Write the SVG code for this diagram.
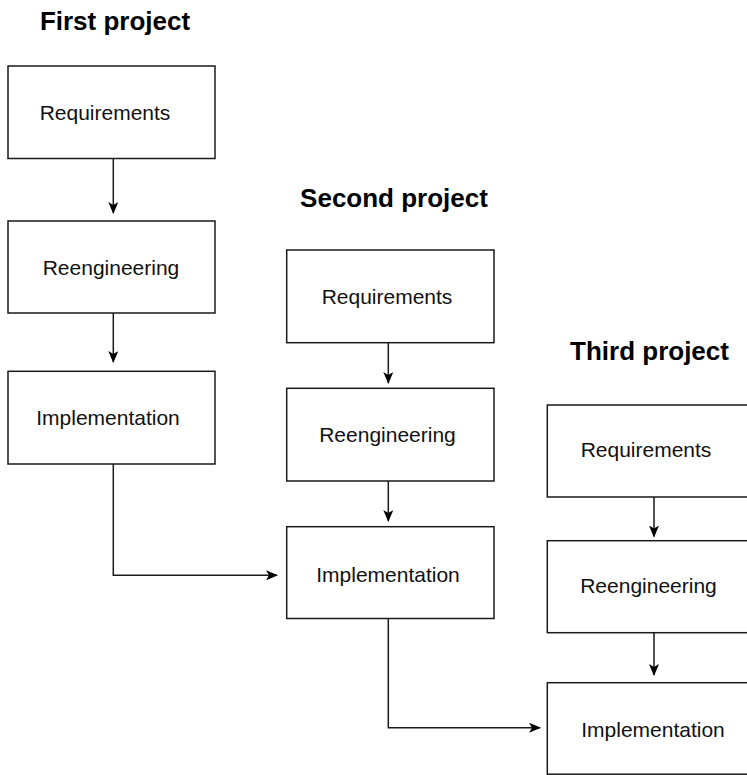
<svg xmlns="http://www.w3.org/2000/svg" width="747" height="775" viewBox="0 0 747 775">
<style>
.box{fill:#fff;stroke:#1a1a1a;stroke-width:1.5}
.lbl{font-family:"Liberation Sans",Arial,Helvetica,sans-serif;font-size:21px;fill:#111;text-anchor:middle}
.ttl{font-family:"Liberation Sans",Arial,Helvetica,sans-serif;font-size:26px;font-weight:bold;fill:#000;text-anchor:middle}
.edge{fill:none;stroke:#1a1a1a;stroke-width:1.5;marker-end:url(#ah)}
</style>
<defs>
<marker id="ah" viewBox="0 0 12 10" refX="11" refY="5" markerWidth="12" markerHeight="10" markerUnits="userSpaceOnUse" orient="auto">
<path d="M0,0 L12,5 L0,10 L3,5 z" fill="#000"/>
</marker>
</defs>
<rect width="747" height="775" fill="#fff"/>
<text class="ttl" x="115" y="30">First project</text>
<text class="ttl" x="394" y="207">Second project</text>
<text class="ttl" x="649.5" y="360">Third project</text>
<g id="connectors">
<path class="edge" d="M113.3,158.5 V213"/>
<path class="edge" d="M113.3,313 V362"/>
<path class="edge" d="M113.3,464 V575.3 H277"/>
<path class="edge" d="M388.3,342.7 V383"/>
<path class="edge" d="M388.3,481 V521"/>
<path class="edge" d="M388.3,618.5 V727.7 H540"/>
<path class="edge" d="M654,497 V536.5"/>
<path class="edge" d="M654,633 V675"/>
</g>
<g id="p1-req"><rect class="box" x="8" y="66" width="207" height="92.5"/><text class="lbl" x="105" y="120">Requirements</text></g>
<g id="p1-reeng"><rect class="box" x="8" y="221" width="207" height="92"/><text class="lbl" x="111" y="275">Reengineering</text></g>
<g id="p1-impl"><rect class="box" x="8" y="371.3" width="207" height="92.7"/><text class="lbl" x="108" y="424.5">Implementation</text></g>
<g id="p2-req"><rect class="box" x="286.7" y="250" width="207.3" height="92.7"/><text class="lbl" x="387" y="303.5">Requirements</text></g>
<g id="p2-reeng"><rect class="box" x="286.7" y="388.3" width="207.3" height="92.7"/><text class="lbl" x="387.5" y="441.5">Reengineering</text></g>
<g id="p2-impl"><rect class="box" x="286.7" y="526.7" width="207.3" height="91.8"/><text class="lbl" x="388" y="582">Implementation</text></g>
<g id="p3-req"><rect class="box" x="547.3" y="405" width="207.3" height="92"/><text class="lbl" x="646" y="457">Requirements</text></g>
<g id="p3-reeng"><rect class="box" x="547.3" y="540.7" width="207.3" height="92"/><text class="lbl" x="648.5" y="593">Reengineering</text></g>
<g id="p3-impl"><rect class="box" x="547.3" y="682.7" width="207.3" height="91.5"/><text class="lbl" x="653" y="737">Implementation</text></g>
</svg>
